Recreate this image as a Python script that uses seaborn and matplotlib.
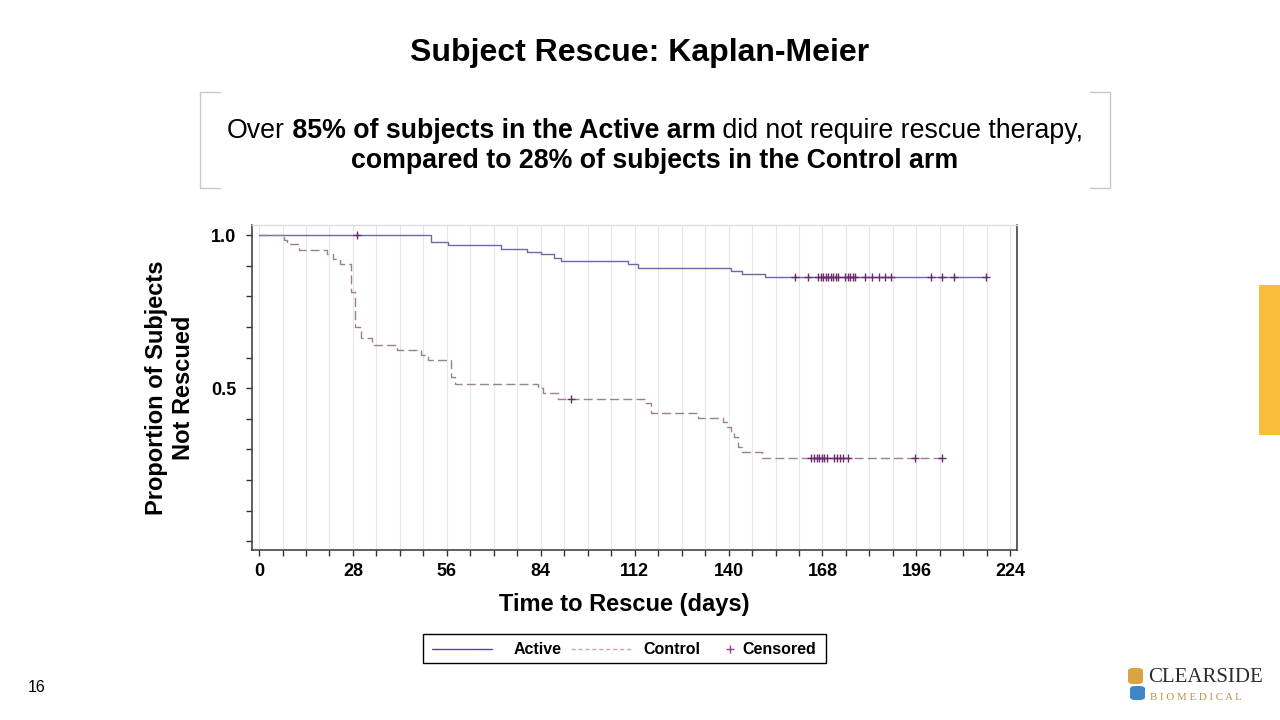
import numpy as np
import pandas as pd
import seaborn as sns
import matplotlib
matplotlib.use('Agg')
import matplotlib.pyplot as plt
from matplotlib import font_manager
from matplotlib.lines import Line2D
from matplotlib.patches import Rectangle, FancyBboxPatch


# Kaplan-Meier step data (day of step, proportion after step)
active_days = [0, 51.2, 56.2, 72.2, 80.0, 84.0, 88.0, 90.0, 110.0, 113.0, 140.7, 143.9, 150.9, 216.7]
active_surv = [1.0, 0.978, 0.967, 0.956, 0.945, 0.937, 0.926, 0.915, 0.904, 0.893, 0.883, 0.872, 0.862, 0.862]

control_days = [0, 7.3, 8.2, 12.0, 20.4, 22.0, 24.2, 27.4, 28.6, 30.3, 33.8, 41.2, 48.3, 50.3,
                57.1, 58.5, 83.1, 84.8, 89.2, 115.1, 116.8, 130.8, 138.4, 139.4, 140.7, 141.7,
                142.7, 143.9, 149.9, 203.5]
control_surv = [1.0, 0.984, 0.971, 0.951, 0.938, 0.922, 0.906, 0.815, 0.700, 0.665, 0.640, 0.624, 0.607, 0.593,
                0.535, 0.514, 0.499, 0.483, 0.466, 0.450, 0.419, 0.403, 0.390, 0.374, 0.357, 0.339,
                0.308, 0.290, 0.272, 0.272]

# censored subjects
active_cens_days = [29.1, 159.8, 163.7, 166.6, 167.5, 168.2, 169.0, 169.7, 170.5, 171.2, 171.9, 172.7,
                    174.7, 175.5, 176.2, 177.0, 177.8, 180.7, 182.8, 184.9, 186.6, 188.4,
                    200.4, 203.5, 207.3, 216.7]
active_cens_surv = [1.0] + [0.862] * 25
control_cens_days = [93.0, 164.6, 165.5, 166.3, 167.1, 167.9, 168.6, 169.3, 171.5, 172.2, 173.2,
                     174.0, 175.7, 195.6, 203.5]
control_cens_surv = [0.466] + [0.272] * 14

x_ticks = [0, 28, 56, 84, 112, 140, 168, 196, 224]
y_ticks = [0.5, 1.0]

title = 'Subject Rescue: Kaplan-Meier'
xlabel = 'Time to Rescue (days)'
ylabel = 'Proportion of Subjects\nNot Rescued'

active_col = '#6a6aa6'
control_col = '#9c7f90'
cens_col = '#6b2a6b'

sns.set_theme(style='white')
plt.rcParams['font.family'] = ['Liberation Sans', 'DejaVu Sans']
plt.rcParams['text.color'] = 'black'
plt.rcParams['axes.labelcolor'] = 'black'
plt.rcParams['xtick.color'] = 'black'
plt.rcParams['ytick.color'] = 'black'

avail = {f.name for f in font_manager.fontManager.ttflist}
narrow = 'Liberation Sans Narrow' if 'Liberation Sans Narrow' in avail else 'Liberation Sans'

W, H = 1280, 720
fig = plt.figure(figsize=(12.8, 7.2), dpi=100)
fig.patch.set_facecolor('white')


def fx(px):
    return px / W


def fy(py):
    return 1 - py / H


ax = fig.add_axes([fx(252), fy(550), fx(1017) - fx(252), fy(225) - fy(550)])

act = pd.DataFrame({'day': active_days, 'surv': active_surv})
ctl = pd.DataFrame({'day': control_days, 'surv': control_surv})

sns.lineplot(data=act, x='day', y='surv', ax=ax, color=active_col, lw=1.0,
             drawstyle='steps-post', estimator=None, sort=False)
sns.lineplot(data=ctl, x='day', y='surv', ax=ax, color=control_col, lw=1.0,
             drawstyle='steps-post', estimator=None, sort=False, linestyle=(0, (6.5, 3)))
sns.scatterplot(x=active_cens_days, y=active_cens_surv, ax=ax, marker='+', s=40,
                color=cens_col, linewidth=1.0, zorder=5)
sns.scatterplot(x=control_cens_days, y=control_cens_surv, ax=ax, marker='+', s=40,
                color=cens_col, linewidth=1.0, zorder=5)

ax.set_xlim(-2.1, 226)
ax.set_ylim(-0.029, 1.033)
ax.set_xticks(x_ticks)
ax.set_xticks(np.arange(0, 225, 7), minor=True)
ax.set_yticks(y_ticks)
ax.set_yticks(np.arange(0, 1.0, 0.1), minor=True)
ax.set_xticklabels([str(t) for t in x_ticks], fontweight='bold', fontsize=13)
ax.set_yticklabels([f'{t:.1f}' for t in y_ticks], fontweight='bold', fontsize=13)
ax.tick_params(which='both', direction='out', length=4.5, width=1, color='#333333',
               bottom=True, left=True)
ax.tick_params(axis='x', pad=5)
ax.tick_params(axis='y', pad=7)
ax.grid(which='both', axis='x', color='#e6e6e6', lw=0.8)
ax.grid(False, axis='y')
for side in ['left', 'bottom', 'right']:
    ax.spines[side].set_color('#444444')
    ax.spines[side].set_linewidth(1.2)
ax.spines['top'].set_color('#dddddd')
ax.spines['top'].set_linewidth(1.0)

ax.set_xlabel(xlabel, fontsize=17, fontweight='bold')
ax.set_ylabel(ylabel, fontsize=17, fontweight='bold', linespacing=1.25)
ax.xaxis.set_label_coords((624 - 252) / 765, (550 - 593) / 325)
ax.yaxis.set_label_coords((195 - 252) / 765, (550 - 388) / 325)

# title
fig.text(fx(640), fy(53), title, ha='center', va='center', fontsize=23, fontweight='bold')

# callout brackets
br = '#c8c8c8'
for x0, x1 in [(200, 220), (1110, 1090)]:
    fig.add_artist(Line2D([fx(x0), fx(x0)], [fy(92), fy(188)], color=br, lw=1))
    fig.add_artist(Line2D([fx(x0), fx(x1)], [fy(92), fy(92)], color=br, lw=1))
    fig.add_artist(Line2D([fx(x0), fx(x1)], [fy(188), fy(188)], color=br, lw=1))

# rich first line of the callout, centred inside the brackets
cx = 655
pieces = [('Over', 'normal'), (' 85% of subjects in the Active arm', 'bold'),
          (' did not require rescue therapy,', 'normal')]
txts = [fig.text(0, fy(131), s, ha='left', va='center', fontsize=19.3, fontweight=w,
                 family=narrow) for s, w in pieces]
fig.canvas.draw()
rend = fig.canvas.get_renderer()
widths = [t.get_window_extent(rend).width for t in txts]
x = cx - sum(widths) / 2
for t, w in zip(txts, widths):
    t.set_x(fx(x))
    x += w
fig.text(fx(cx), fy(161), 'compared to 28% of subjects in the Control arm', ha='center',
         va='center', fontsize=19.3, fontweight='bold', family=narrow)

# legend box drawn by hand
fig.add_artist(Rectangle((fx(423), fy(663)), fx(826) - fx(423), fy(634) - fy(663),
                         fill=False, edgecolor='black', lw=1))
ly = fy(649)
fig.add_artist(Line2D([fx(432), fx(492)], [ly, ly], color='#5e4584', lw=1))
fig.text(fx(514), ly, 'Active', ha='left', va='center', fontsize=11.5, fontweight='bold')
fig.add_artist(Line2D([fx(571), fx(631)], [ly, ly], color='#c9a5b5', lw=1, linestyle=(0, (3, 2))))
fig.text(fx(643), ly, 'Control', ha='left', va='center', fontsize=11.5, fontweight='bold')
fig.add_artist(Line2D([fx(730)], [ly], color='#9a3a9a', marker='+', markersize=6, mew=1, lw=0))
fig.text(fx(742), ly, 'Censored', ha='left', va='center', fontsize=11.5, fontweight='bold')

# yellow side tab
fig.add_artist(Rectangle((fx(1259), fy(435)), fx(1280) - fx(1259), fy(285) - fy(435),
                         facecolor='#f8bd3a', edgecolor='none'))

# page number
fig.text(fx(37), fy(688), '16', ha='center', va='center', fontsize=11.5)

# logo
fig.add_artist(FancyBboxPatch((fx(1128), fy(684)), fx(1143) - fx(1128), fy(668) - fy(684),
                              boxstyle='round,pad=0.0,rounding_size=0.004',
                              facecolor='#d9a441', edgecolor='none'))
fig.add_artist(FancyBboxPatch((fx(1130), fy(700)), fx(1145) - fx(1130), fy(686) - fy(700),
                              boxstyle='round,pad=0.0,rounding_size=0.004',
                              facecolor='#3f86c4', edgecolor='none'))
fig.text(fx(1148), fy(678), 'CLEARSIDE', ha='left', va='center', fontsize=15,
         family='Liberation Serif', color='#2b2b2b')
fig.text(fx(1150), fy(697), 'B I O M E D I C A L', ha='left', va='center', fontsize=7.8,
         family='Liberation Serif', color='#b8914a')

fig.savefig('out.png', dpi=100)
